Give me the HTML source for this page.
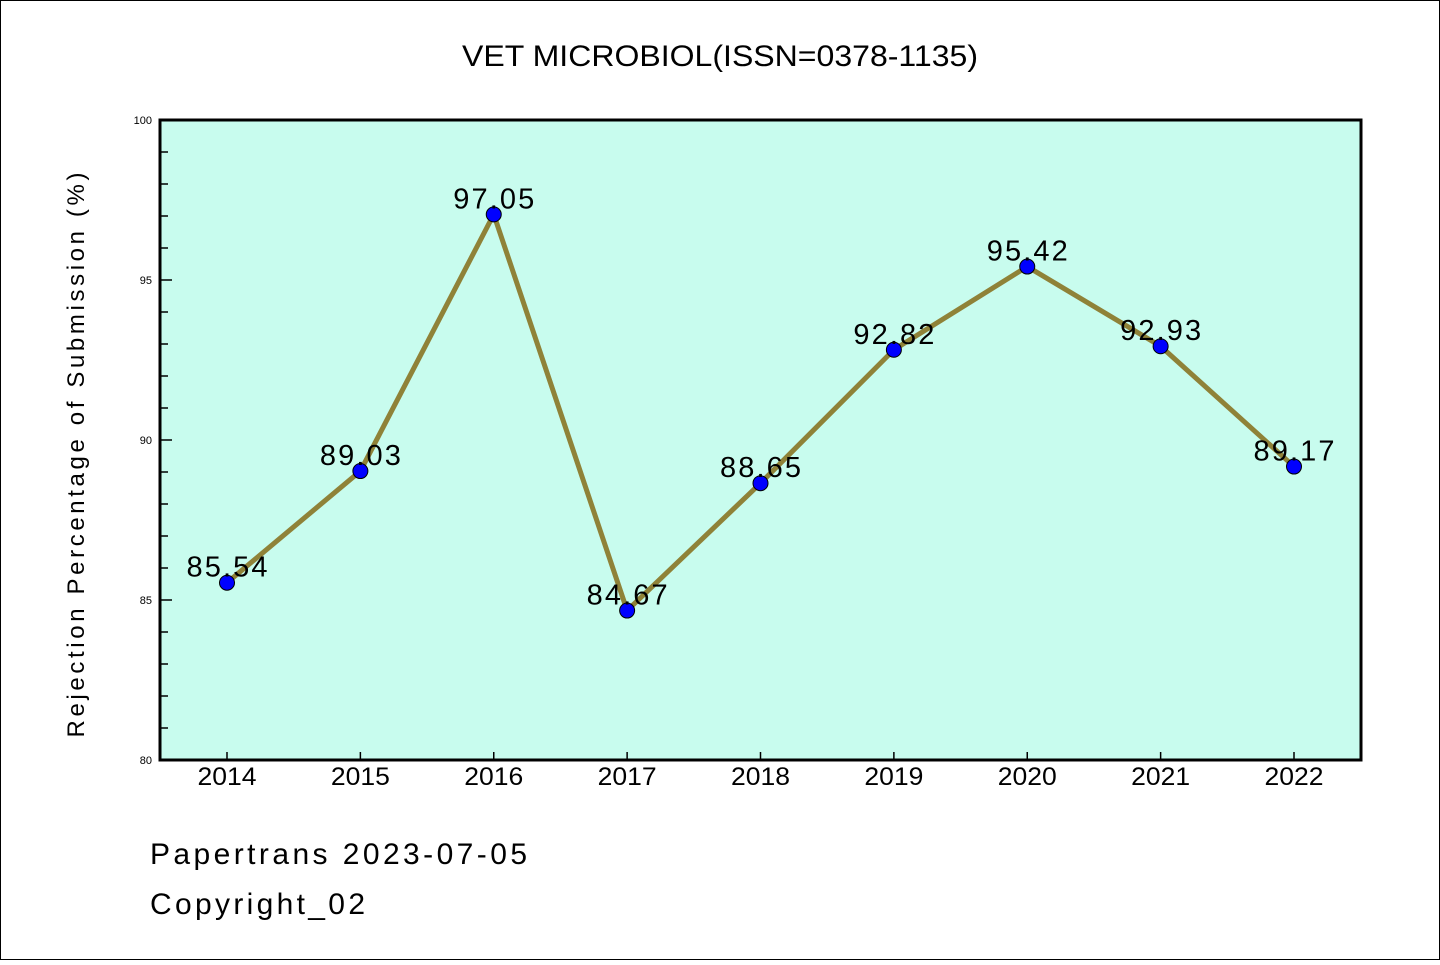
<!DOCTYPE html>
<html><head><meta charset="utf-8"><style>
html,body{margin:0;padding:0;background:#fff;}
svg text{font-family:"WenQuanYi Zen Hei Mono","Liberation Sans",sans-serif;}
</style></head><body>
<svg id="chart" width="1440" height="960" xmlns="http://www.w3.org/2000/svg">
<rect x="0.5" y="0.5" width="1439" height="959" fill="#fff" stroke="#000" stroke-width="1"/>
<text x="720" y="66" font-size="30" text-anchor="middle" textLength="516" lengthAdjust="spacingAndGlyphs">VET MICROBIOL(ISSN=0378-1135)</text>
<rect x="160" y="120" width="1201" height="640" fill="#c8fcee"/>
<g id="yticks"></g><g id="xticks"></g><g id="series"></g>
<rect x="160" y="120" width="1201" height="640" fill="none" stroke="#000" stroke-width="3"/>
<text transform="translate(84,455) rotate(-90)" font-size="24" text-anchor="middle" textLength="565" lengthAdjust="spacing">Rejection Percentage of Submission (%)</text>
<text x="150" y="864" font-size="30" textLength="377" lengthAdjust="spacing">Papertrans 2023-07-05</text>
<text x="150" y="914" font-size="30" textLength="215" lengthAdjust="spacing">Copyright_02</text>
</svg>
<script>
const years=["2014","2015","2016","2017","2018","2019","2020","2021","2022"];
const values=[85.54,89.03,97.05,84.67,88.65,92.82,95.42,92.93,89.17];
const valueLabels=["85.54","89.03","97.05","84.67","88.65","92.82","95.42","92.93","89.17"];
const yTicks=[80,85,90,95,100];
const yMin=80,yMax=100;
const NS="http://www.w3.org/2000/svg";
function X(i){return 227+i*(1294-227)/(years.length-1);}
function Y(v){return 760-(v-yMin)/(yMax-yMin)*640;}
function mk(tag,attrs,parent){const e=document.createElementNS(NS,tag);for(const k in attrs)e.setAttribute(k,attrs[k]);parent.appendChild(e);return e;}
const yt=document.getElementById('yticks');
for(let v=yMin;v<=yMax;v+=1){
  const major=yTicks.includes(v);
  const l=mk('line',{x1:160,x2:160+(major?12:8),y1:Y(v),y2:Y(v),stroke:'#000','stroke-width':1.5},yt);
  
  
}
yTicks.forEach(v=>{
  const t=mk('text',{x:152,y:Y(v)+4,'font-size':11,'text-anchor':'end'},yt);
  t.textContent=v;
  
  
});
const xt=document.getElementById('xticks');
years.forEach((y,i)=>{
  const l=mk('line',{x1:X(i),x2:X(i),y1:760,y2:752,stroke:'#000','stroke-width':1.5},xt);
  
  
  const t=mk('text',{x:X(i),y:785,'font-size':25,'text-anchor':'middle',textLength:59,lengthAdjust:'spacingAndGlyphs'},xt);
  t.textContent=y;
  
  
});
const s=document.getElementById('series');
const pl=mk('polyline',{points:values.map((v,i)=>X(i)+','+Y(v)).join(' '),fill:'none',stroke:'#8f8238','stroke-width':5,'stroke-linejoin':'round'},s);


values.forEach((v,i)=>{
  const c=mk('circle',{cx:X(i),cy:Y(v),r:7.5,fill:'#0000ff',stroke:'#000','stroke-width':1},s);
  
  
});
values.forEach((v,i)=>{
  const t=mk('text',{x:X(i),y:Y(v)-6,'font-size':29,'text-anchor':'middle',textLength:81,lengthAdjust:'spacing'},s);
  t.textContent=valueLabels[i];
  
  
});
</script>
</body></html>
